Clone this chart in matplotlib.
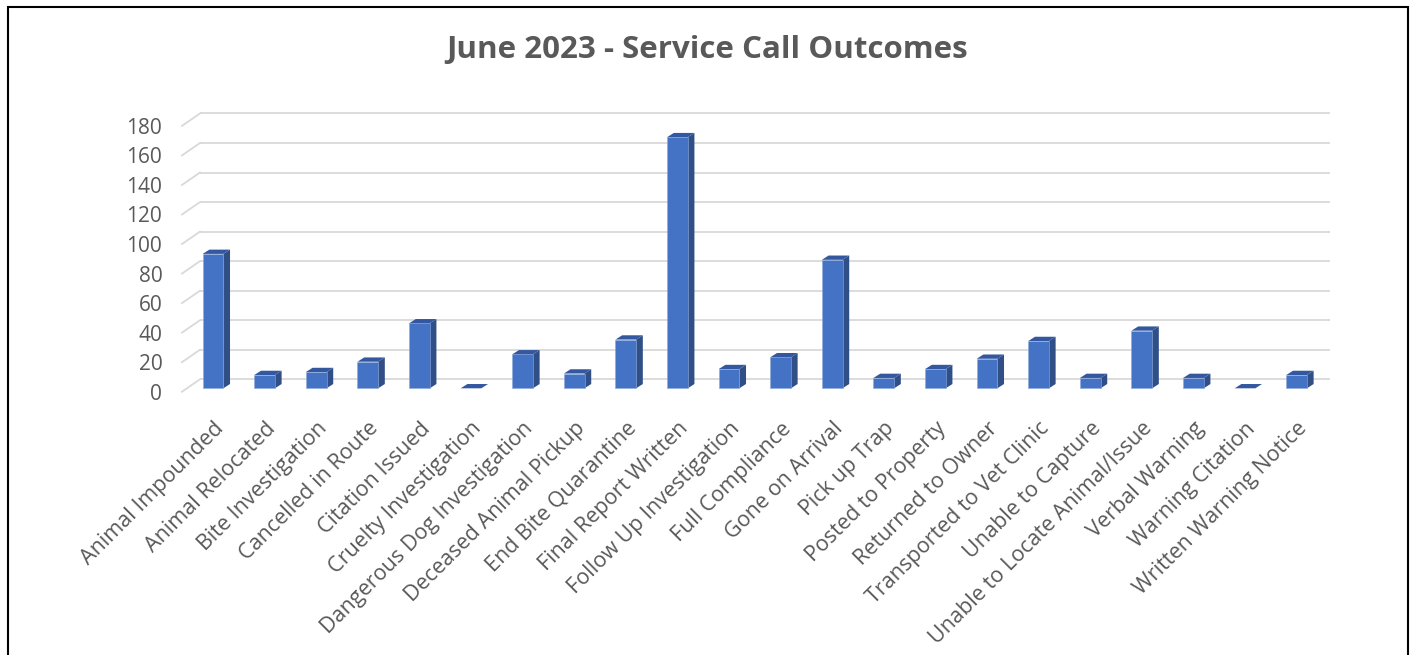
import matplotlib
matplotlib.use('Agg')
import matplotlib.pyplot as plt
from matplotlib.patches import Polygon, Rectangle

# Data
categories = [
    'Animal Impounded', 'Animal Relocated', 'Bite Investigation', 'Cancelled in Route',
    'Citation Issued', 'Cruelty Investigation', 'Dangerous Dog Investigation',
    'Deceased Animal Pickup', 'End Bite Quarantine', 'Final Report Written',
    'Follow Up Investigation', 'Full Compliance', 'Gone on Arrival', 'Pick up Trap',
    'Posted to Property', 'Returned to Owner', 'Transported to Vet Clinic',
    'Unable to Capture', 'Unable to Locate Animal/Issue', 'Verbal Warning',
    'Warning Citation', 'Written Warning Notice',
]
counts = [91, 9, 11, 18, 44, 0, 23, 10, 33, 170, 13, 21, 87, 7, 13, 20, 32, 7, 39, 7, 0, 9]
y_ticks = [0, 20, 40, 60, 80, 100, 120, 140, 160, 180]
title = 'June 2023 - Service Call Outcomes'

plt.rcParams['font.family'] = ['Open Sans', 'DejaVu Sans']
text_col = '#595959'
grid_col = '#D9D9D9'
front_col = '#4472C4'
side_col = '#2F4F86'
top_col = '#3358A0'

W, H = 1415, 655
fig = plt.figure(figsize=(W / 100, H / 100), dpi=100)

# axes placement in pixels (from top-left)
ax_l, ax_r, ax_t, ax_b = 172, 1350, 100, 400
ax = fig.add_axes([ax_l / W, 1 - ax_b / H, (ax_r - ax_l) / W, (ax_b - ax_t) / H])

px_per_cat = 51.6
px_per_unit = 1.477
first_px = 213
floor_px = 391.7
ax.set_xlim((ax_l - first_px) / px_per_cat, (ax_r - first_px) / px_per_cat)
ax.set_ylim((floor_px - ax_b) / px_per_unit, (floor_px - ax_t) / px_per_unit)

# pseudo-3D geometry (data units)
wall_dy = 8.4            # back wall height offset
wall_dx = 18 / px_per_cat
bar_w = 0.40
bar_y0 = 2.3             # front face bottom
bar_ddy = 2.9            # bar depth in y
bar_ddx = 6.7 / px_per_cat
x_left_front = (182 - first_px) / px_per_cat
x_right = (1330 - first_px) / px_per_cat

# gridlines on back wall + side wall diagonal
for g in y_ticks:
    ax.plot([x_left_front + wall_dx, x_right], [g + wall_dy, g + wall_dy],
            color=grid_col, lw=1.3, zorder=1, solid_capstyle='butt')
    ax.plot([x_left_front, x_left_front + wall_dx], [g, g + wall_dy],
            color=grid_col, lw=1.3, zorder=1)

for i, v in enumerate(counts):
    x0, x1 = i - bar_w / 2, i + bar_w / 2
    y0, y1 = bar_y0, bar_y0 + v
    if v > 0:
        ax.add_patch(Polygon([(x1, y0), (x1 + bar_ddx, y0 + bar_ddy), (x1 + bar_ddx, y1 + bar_ddy), (x1, y1)],
                             closed=True, facecolor=side_col, edgecolor='none', zorder=3))
        ax.add_patch(Rectangle((x0, y0), bar_w, v, facecolor=front_col,
                               edgecolor='#8FAADC', lw=0.4, zorder=4))
    ax.add_patch(Polygon([(x0, y1), (x1, y1), (x1 + bar_ddx, y1 + bar_ddy), (x0 + bar_ddx, y1 + bar_ddy)],
                         closed=True, facecolor=top_col, edgecolor='none', zorder=5))

ax.set_yticks(y_ticks)
ax.set_yticklabels([str(t) for t in y_ticks], fontsize=15, color=text_col)
ax.set_xticks(range(len(categories)))
ax.set_xticklabels(categories, rotation=45, ha='right', rotation_mode='anchor',
                   fontsize=15.5, color=text_col)
ax.tick_params(axis='y', length=0, pad=7)
ax.tick_params(axis='x', length=0, pad=13)
for s in ax.spines.values():
    s.set_visible(False)
ax.patch.set_alpha(0)

fig.text(707 / W, 1 - 50 / H, title, ha='center', va='center',
         fontsize=22.5, fontweight='bold', color=text_col)

# outer frame
fig.add_artist(Rectangle((8 / W, -0.05), 1400 / W, 1.05 - 6.5 / H, transform=fig.transFigure,
                         fill=False, edgecolor='black', lw=1.5))

fig.savefig('out.png', dpi=100, facecolor='white')
